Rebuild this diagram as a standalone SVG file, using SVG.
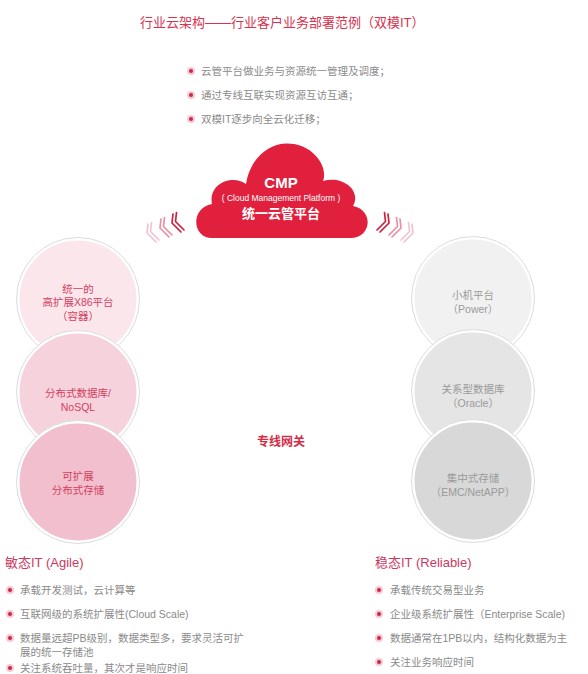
<svg xmlns="http://www.w3.org/2000/svg" width="588" height="674" viewBox="0 0 588 674">
<defs>
<style>
text{font-family:"Liberation Sans","Noto Sans CJK SC",sans-serif;}
.title{font-size:13px;fill:#d8324e;}
.bul{font-size:10.5px;fill:#8a8a8a;}
.pk{font-size:10.5px;fill:#d4405f;text-anchor:middle;}
.gr{font-size:10.5px;fill:#9a9a9a;text-anchor:middle;}
.hd{font-size:13px;fill:#c93a62;}
.cw{fill:#fff;text-anchor:middle;}
.ring{stroke:#ffffff;stroke-width:3;}
.ol{fill:none;stroke:#dcdcdc;stroke-width:1;}
.chev{fill:none;stroke-width:1.7;stroke-linecap:round;stroke-linejoin:round;}
</style>
<symbol id="dot" overflow="visible">
<circle r="4" fill="#f6c9d3"/>
<circle r="2" fill="#c8284a"/>
</symbol>
<g id="chevL">
<path class="chev" d="M1,0 L0,9 L9,18"/>
<path class="chev" d="M4.5,-1.5 L3.5,7.5 L12,16"/>
</g>
</defs>
<rect width="588" height="674" fill="#ffffff"/>

<g id="title">
<text class="title" x="140" y="27">行业云架构——行业客户业务部署范例（双模IT）</text>
</g>

<g id="top-bullets">
<use href="#dot" x="191" y="71"/>
<text class="bul" x="201" y="75">云管平台做业务与资源统一管理及调度；</text>
<use href="#dot" x="191" y="95"/>
<text class="bul" x="201" y="99">通过专线互联实现资源互访互通；</text>
<use href="#dot" x="191" y="119"/>
<text class="bul" x="201" y="123">双模IT逐步向全云化迁移；</text>
</g>

<g id="cmp">
<path d="M212,238 C192,238 190,208 212,204 C208,184 232,174 246,184 C250,158 270,140 294,144 C316,148 328,168 323,181 C342,175 362,190 353,206 C374,210 372,238 350,238 Z" fill="#e0203c"/>
<text class="cw" x="281" y="188" style="font-size:15px;font-weight:bold">CMP</text>
<text class="cw" x="281" y="201" style="font-size:8.5px">( Cloud Management Platform )</text>
<text class="cw" x="281" y="218" style="font-size:13px;font-weight:bold">统一云管平台</text>
</g>

<g id="connectors">
<g transform="translate(147,224)" stroke="#f2c4cf"><use href="#chevL"/></g>
<g transform="translate(160,219)" stroke="#e890a4"><use href="#chevL"/></g>
<g transform="translate(172,214)" stroke="#c8243f"><use href="#chevL"/></g>
<g transform="translate(389,214) scale(-1,1)" stroke="#c8243f"><use href="#chevL"/></g>
<g transform="translate(401,219) scale(-1,1)" stroke="#e890a4"><use href="#chevL"/></g>
<g transform="translate(413,224) scale(-1,1)" stroke="#f2c4cf"><use href="#chevL"/></g>
</g>

<g id="left1">
<circle cx="78" cy="299" r="60" fill="#fae6eb" class="ring"/>
<circle cx="78" cy="299" r="61.5" class="ol"/>
<text class="pk" x="78" y="293">统一的</text>
<text class="pk" x="78" y="306">高扩展X86平台</text>
<text class="pk" x="78" y="320">（容器）</text>
</g>
<g id="left2">
<circle cx="78" cy="392" r="60" fill="#f6d3dc" class="ring"/>
<circle cx="78" cy="392" r="61.5" class="ol"/>
<text class="pk" x="78" y="397">分布式数据库/</text>
<text class="pk" x="78" y="411">NoSQL</text>
</g>
<g id="left3">
<circle cx="78" cy="482" r="60" fill="#f1bfcd" class="ring"/>
<circle cx="78" cy="482" r="61.5" class="ol"/>
<text class="pk" x="78" y="480">可扩展</text>
<text class="pk" x="78" y="494">分布式存储</text>
</g>

<g id="right1">
<circle cx="473" cy="298" r="60" fill="#f1f1f1" class="ring"/>
<circle cx="473" cy="298" r="61.5" class="ol"/>
<text class="gr" x="473" y="299">小机平台</text>
<text class="gr" x="473" y="313">（Power）</text>
</g>
<g id="right2">
<circle cx="473" cy="391" r="60" fill="#e5e5e5" class="ring"/>
<circle cx="473" cy="391" r="61.5" class="ol"/>
<text class="gr" x="473" y="393">关系型数据库</text>
<text class="gr" x="473" y="407">（Oracle）</text>
</g>
<g id="right3">
<circle cx="473" cy="481" r="60" fill="#d8d8d8" class="ring"/>
<circle cx="473" cy="481" r="61.5" class="ol"/>
<text class="gr" x="473" y="482">集中式存储</text>
<text class="gr" x="473" y="496">（EMC/NetAPP）</text>
</g>

<g id="gateway">
<text x="281" y="446" style="font-size:12px;font-weight:bold;fill:#d42c48;text-anchor:middle">专线网关</text>
</g>

<g id="agile">
<text class="hd" x="5" y="567">敏态IT (Agile)</text>
<use href="#dot" x="10" y="590"/>
<text class="bul" x="20" y="594">承载开发测试，云计算等</text>
<use href="#dot" x="10" y="614"/>
<text class="bul" x="20" y="618">互联网级的系统扩展性(Cloud Scale)</text>
<use href="#dot" x="10" y="638"/>
<text class="bul" x="20" y="642">数据量远超PB级别，数据类型多，要求灵活可扩</text>
<text class="bul" x="20" y="656">展的统一存储池</text>
<use href="#dot" x="10" y="668"/>
<text class="bul" x="20" y="672">关注系统吞吐量，其次才是响应时间</text>
</g>

<g id="reliable">
<text class="hd" x="375" y="567">稳态IT (Reliable)</text>
<use href="#dot" x="379" y="590"/>
<text class="bul" x="390" y="594">承载传统交易型业务</text>
<use href="#dot" x="379" y="614"/>
<text class="bul" x="390" y="618">企业级系统扩展性（Enterprise Scale)</text>
<use href="#dot" x="379" y="638"/>
<text class="bul" x="390" y="642">数据通常在1PB以内，结构化数据为主</text>
<use href="#dot" x="379" y="662"/>
<text class="bul" x="390" y="666">关注业务响应时间</text>
</g>
</svg>
